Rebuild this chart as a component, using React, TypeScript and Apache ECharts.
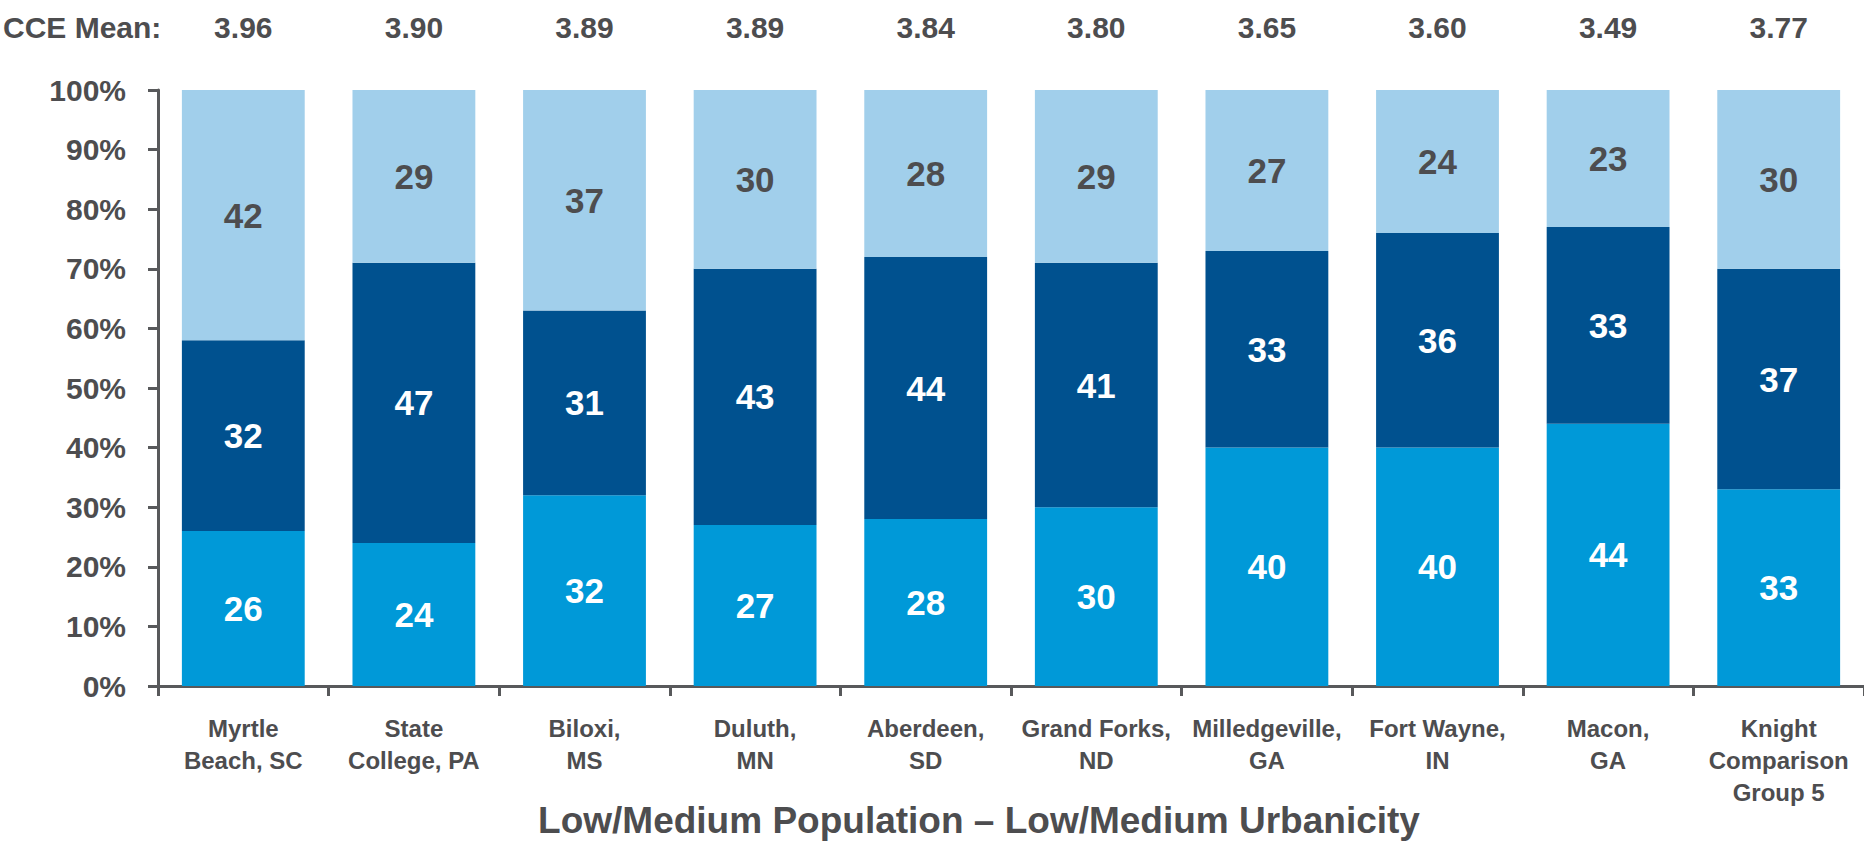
import React, { useEffect, useRef } from "react";
import * as echarts from "echarts";

const categories = [
  "Myrtle\nBeach, SC",
  "State\nCollege, PA",
  "Biloxi,\nMS",
  "Duluth,\nMN",
  "Aberdeen,\nSD",
  "Grand Forks,\nND",
  "Milledgeville,\nGA",
  "Fort Wayne,\nIN",
  "Macon,\nGA",
  "Knight\nComparison\nGroup 5",
];
const means = ["3.96", "3.90", "3.89", "3.89", "3.84", "3.80", "3.65", "3.60", "3.49", "3.77"];
const bottomValues = [26, 24, 32, 27, 28, 30, 40, 40, 44, 33];
const middleValues = [32, 47, 31, 43, 44, 41, 33, 36, 33, 37];
const topValues = [42, 29, 37, 30, 28, 29, 27, 24, 23, 30];
const yTicks = { min: 0, max: 100, interval: 10 };
const meanHeader = "CCE Mean:";
const axisTitle = "Low/Medium Population \u2013 Low/Medium Urbanicity";

const FONT = "'Liberation Sans', Arial, Helvetica, sans-serif";
const TEXT = "#4D4D4F";
const AXIS = "#58595B";

export default function App() {
  const ref = useRef<HTMLDivElement>(null);
  useEffect(() => {
    document.body.style.margin = "0";
    if (!ref.current) return;
    const chart = echarts.init(ref.current, undefined, { renderer: "svg" });
    const labelInside = (color: string) => ({
      show: true,
      position: "inside",
      color,
      fontFamily: FONT,
      fontWeight: "bold",
      fontSize: 35,
    });
    chart.setOption({
      animation: false,
      backgroundColor: "#ffffff",
      textStyle: { fontFamily: FONT },
      grid: {
        left: 158,
        right: 0,
        top: 90,
        bottom: 158,
        containLabel: false,
        outerBoundsMode: "none",
      },
      xAxis: [
        {
          type: "category",
          data: categories,
          position: "bottom",
          axisLine: { show: true, lineStyle: { color: AXIS, width: 3 } },
          axisTick: { show: true, length: 10, lineStyle: { color: AXIS, width: 3 } },
          axisLabel: {
            interval: 0,
            color: TEXT,
            fontFamily: FONT,
            fontWeight: "bold",
            fontSize: 24,
            lineHeight: 32,
            margin: 26,
          },
          name: axisTitle,
          nameLocation: "middle",
          nameGap: 114,
          nameMoveOverlap: false,
          nameTextStyle: {
            color: TEXT,
            fontFamily: FONT,
            fontWeight: "bold",
            fontSize: 37,
            lineHeight: 40,
            padding: [0, 64, 0, 0],
          },
        },
        {
          type: "category",
          data: means,
          position: "top",
          axisLine: { show: false },
          axisTick: { show: false },
          axisLabel: {
            interval: 0,
            color: TEXT,
            fontFamily: FONT,
            fontWeight: "bold",
            fontSize: 30,
            lineHeight: 30,
            margin: 48,
          },
        },
      ],
      yAxis: {
        type: "value",
        min: yTicks.min,
        max: yTicks.max,
        interval: yTicks.interval,
        splitLine: { show: false },
        axisLine: { show: true, lineStyle: { color: AXIS, width: 3 } },
        axisTick: { show: true, length: 10, lineStyle: { color: AXIS, width: 3 } },
        axisLabel: {
          formatter: "{value}%",
          color: TEXT,
          fontFamily: FONT,
          fontWeight: "bold",
          fontSize: 30,
          margin: 32,
        },
      },
      graphic: [
        {
          type: "text",
          left: 3,
          top: 12,
          style: {
            text: meanHeader,
            fill: TEXT,
            font: `bold 30px ${FONT}`,
          },
        },
      ],
      series: [
        {
          type: "bar",
          stack: "total",
          data: bottomValues,
          barCategoryGap: "28%",
          itemStyle: { color: "#0099D8" },
          label: labelInside("#ffffff"),
        },
        {
          type: "bar",
          stack: "total",
          data: middleValues,
          barCategoryGap: "28%",
          itemStyle: { color: "#00518F" },
          label: labelInside("#ffffff"),
        },
        {
          type: "bar",
          stack: "total",
          data: topValues,
          barCategoryGap: "28%",
          itemStyle: { color: "#A1CFEB" },
          label: labelInside(TEXT),
        },
      ],
    });
    return () => chart.dispose();
  }, []);
  return <div ref={ref} style={{ width: 1864, height: 844 }} />;
}
